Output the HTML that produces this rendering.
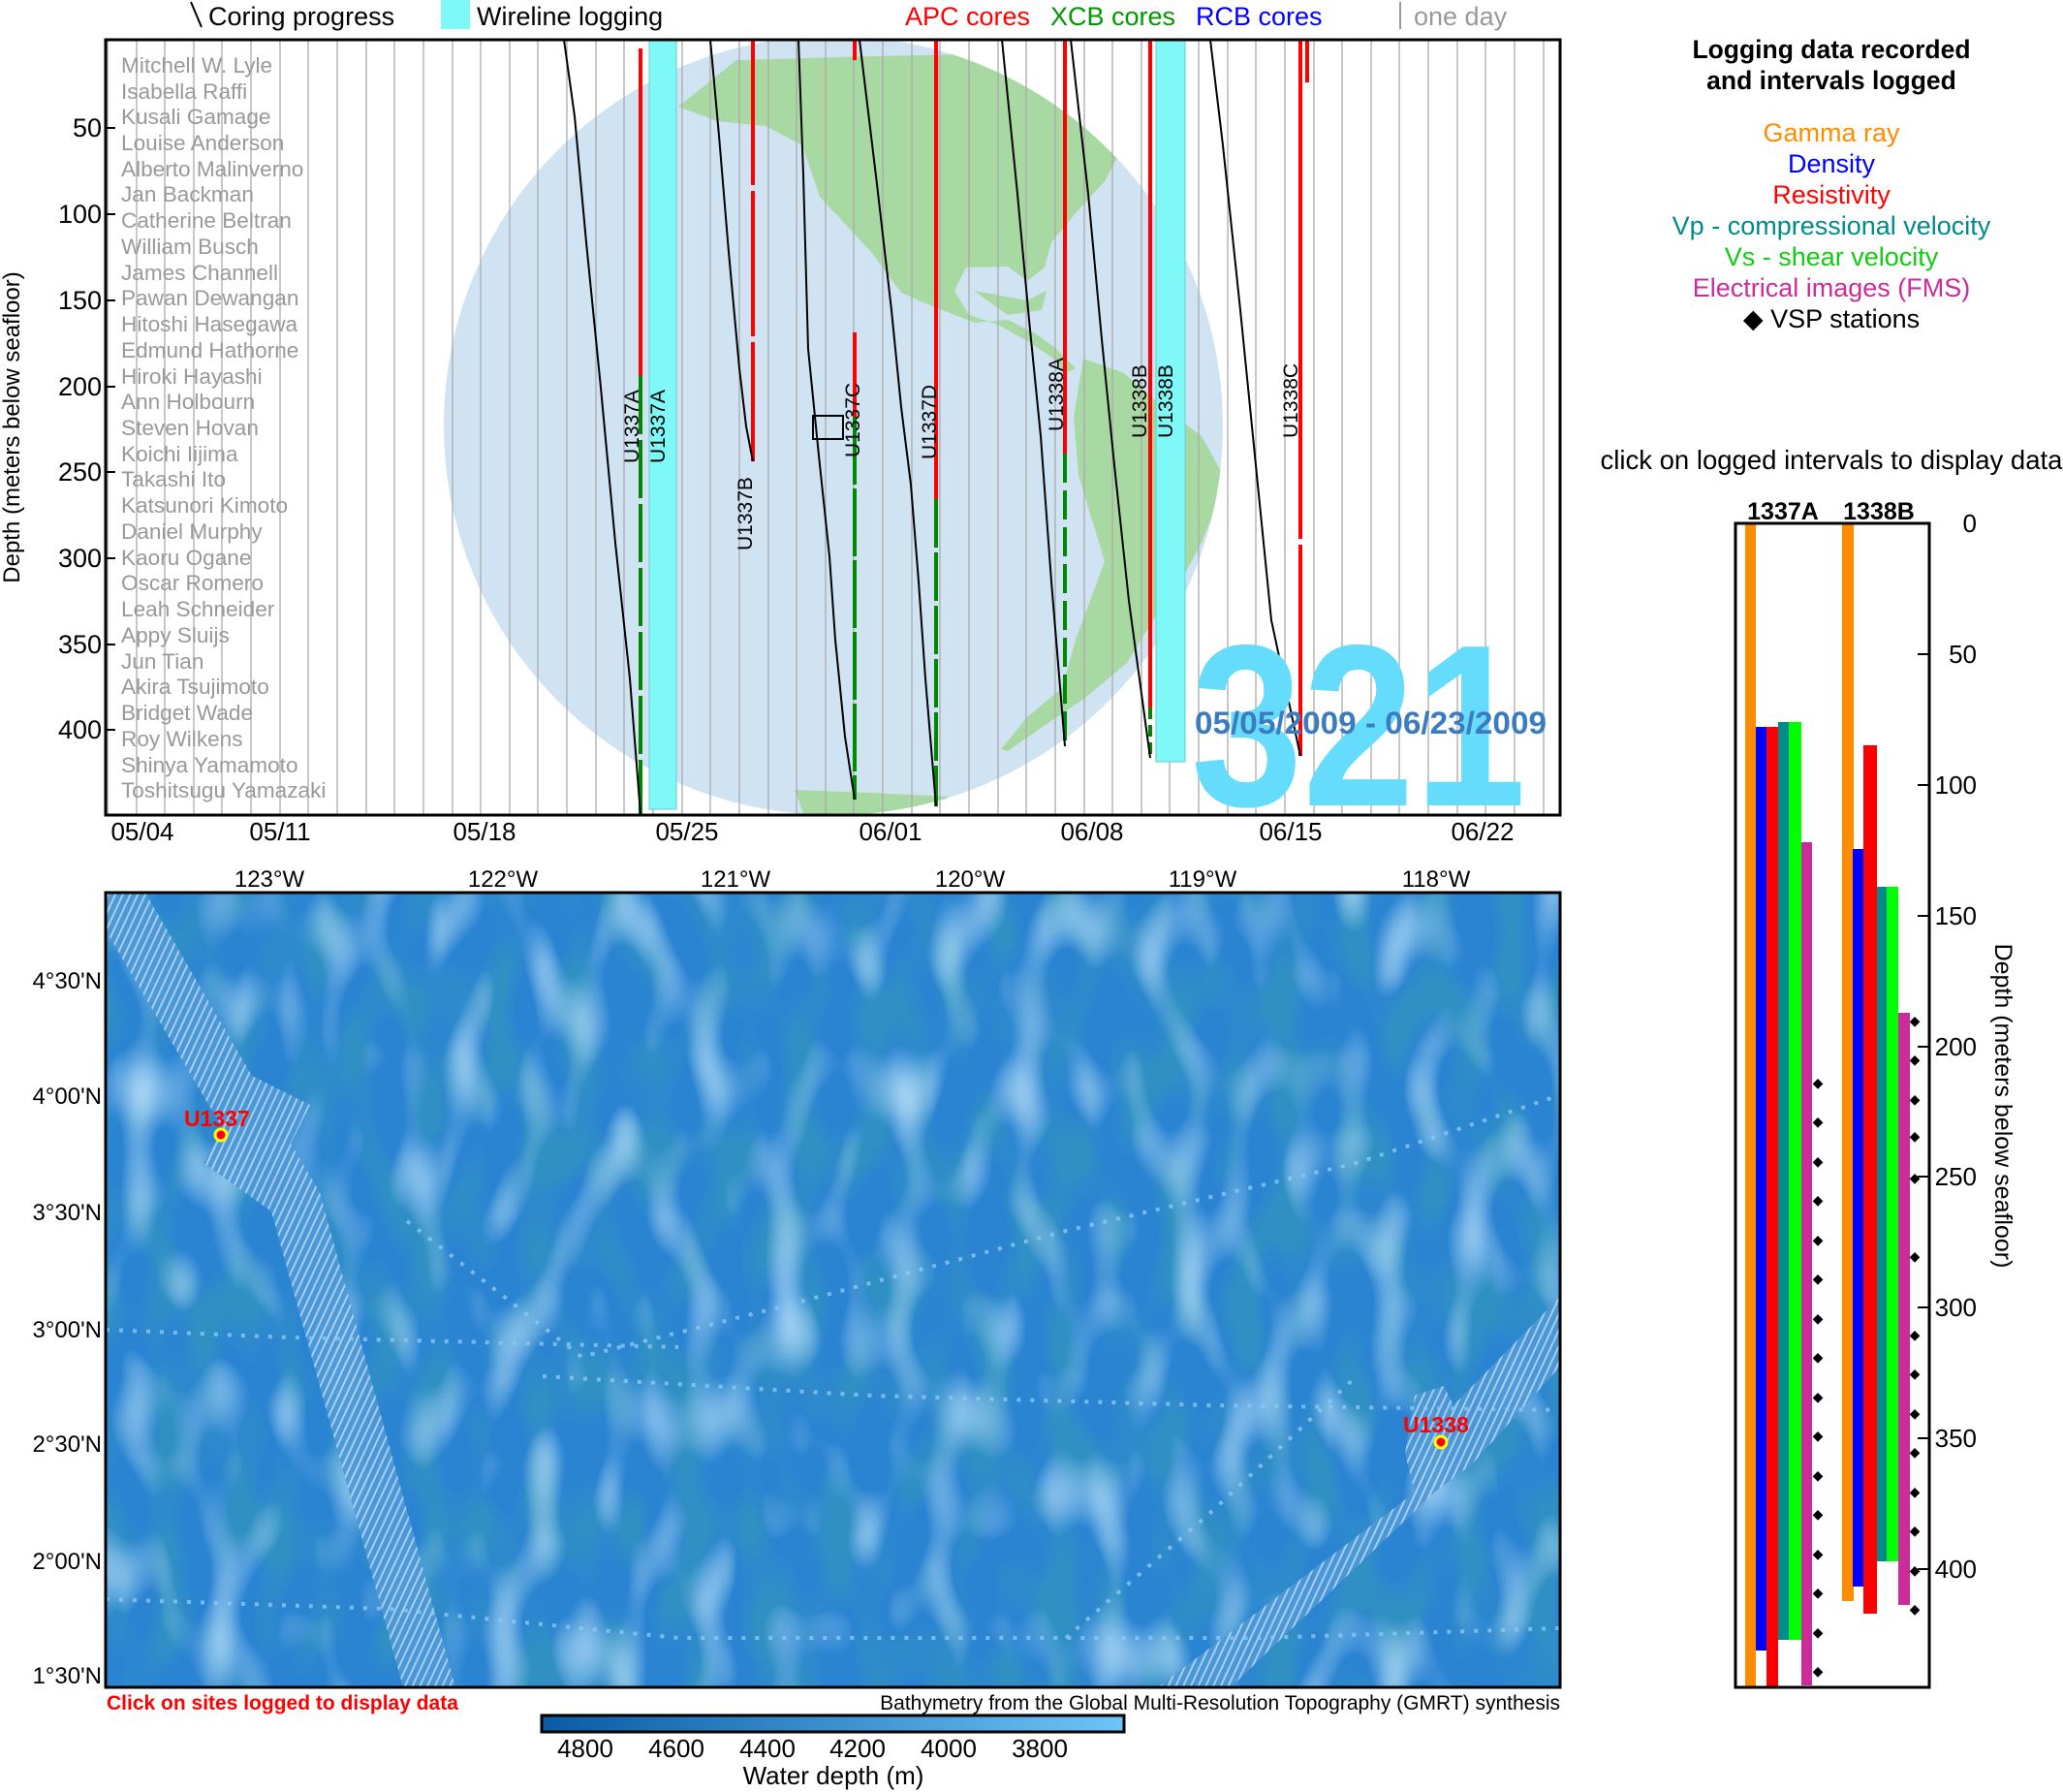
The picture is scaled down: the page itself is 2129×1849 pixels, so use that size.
<!DOCTYPE html>
<html><head><meta charset="utf-8"><style>
html,body{margin:0;padding:0;background:#fff}
svg{display:block}
text{font-family:"Liberation Sans",sans-serif}
</style></head><body>
<svg width="2129" height="1849" viewBox="0 0 2129 1849" xmlns="http://www.w3.org/2000/svg">
<defs>
<clipPath id="topc"><rect x="109" y="41" width="1501" height="800"/></clipPath>
<clipPath id="globe"><circle cx="860" cy="439" r="402"/></clipPath>
<clipPath id="mapc"><rect x="109" y="921" width="1501" height="820"/></clipPath>
<filter id="tex" x="0" y="0" width="100%" height="100%">
<feTurbulence type="fractalNoise" baseFrequency="0.024 0.012" numOctaves="1" seed="7" result="n"/>
<feColorMatrix in="n" type="matrix" values="0 0 0 0 0.5  0 0 0 0 0.76  0 0 0 0 0.95  2.6 0 0 0 -1.3"/>
</filter>
<filter id="tex2" x="0" y="0" width="100%" height="100%">
<feTurbulence type="fractalNoise" baseFrequency="0.026 0.013" numOctaves="1" seed="11" result="n"/>
<feColorMatrix in="n" type="matrix" values="0 0 0 0 0.03  0 0 0 0 0.28  0 0 0 0 0.55  0 4.0 0 0 -1.75"/>
</filter>
<linearGradient id="cb" x1="0" x2="1" y1="0" y2="0"><stop offset="0" stop-color="#0b5aa6"/><stop offset="1" stop-color="#6ec4f6"/></linearGradient>
<pattern id="rid" width="7" height="7" patternUnits="userSpaceOnUse" patternTransform="rotate(25)"><rect width="7" height="7" fill="#4f98d6"/><rect width="2" height="7" fill="#b0d6f2"/></pattern>
</defs>

<line x1="197" y1="2" x2="208" y2="28" stroke="#000" stroke-width="2"/>
<text x="215" y="26" font-size="27">Coring progress</text>
<rect x="455" y="0" width="30" height="30" fill="#7ff8f8"/>
<text x="492" y="26" font-size="27">Wireline logging</text>
<text x="934" y="26" font-size="27" fill="#f00">APC cores</text>
<text x="1084" y="26" font-size="27" fill="#090">XCB cores</text>
<text x="1234" y="26" font-size="27" fill="#00f">RCB cores</text>
<line x1="1445" y1="2" x2="1445" y2="30" stroke="#999" stroke-width="2"/>
<text x="1459" y="26" font-size="27" fill="#999">one day</text>

<g clip-path="url(#topc)">
<circle cx="860" cy="439" r="402" fill="#d0e3f3"/>
<g clip-path="url(#globe)" fill="#a9d9a3">
<polygon points="700,110 760,62 900,58 1050,55 1180,60 1300,60 1300,120 1185,108 1160,150 1140,187 1110,220 1085,250 1078,276 1060,290 1040,275 997,276 985,300 1000,325 1030,335 1064,354 1087,370 1100,385 1110,380 1090,360 1070,345 1040,330 1006,333 960,315 930,302 899,260 846,203 828,150 790,130 740,125"/>
<polygon points="1118,370 1160,385 1200,420 1240,450 1262,490 1256,520 1240,560 1221,595 1190,640 1163,684 1120,720 1073,752 1040,775 1033,773 1060,740 1096,710 1110,660 1140,579 1125,530 1113,490 1108,430"/>
<polygon points="1005,300 1060,310 1080,300 1075,320 1040,325"/>
<polygon points="820,815 900,818 980,822 940,841 830,841"/>
</g>
<g stroke="#aaa" stroke-width="1.3">
<line x1="111" y1="41" x2="111" y2="841"/><line x1="141" y1="41" x2="141" y2="841"/><line x1="170" y1="41" x2="170" y2="841"/><line x1="200" y1="41" x2="200" y2="841"/><line x1="229" y1="41" x2="229" y2="841"/><line x1="259" y1="41" x2="259" y2="841"/><line x1="289" y1="41" x2="289" y2="841"/><line x1="318" y1="41" x2="318" y2="841"/><line x1="348" y1="41" x2="348" y2="841"/><line x1="378" y1="41" x2="378" y2="841"/><line x1="407" y1="41" x2="407" y2="841"/><line x1="437" y1="41" x2="437" y2="841"/><line x1="467" y1="41" x2="467" y2="841"/><line x1="496" y1="41" x2="496" y2="841"/><line x1="526" y1="41" x2="526" y2="841"/><line x1="555" y1="41" x2="555" y2="841"/><line x1="585" y1="41" x2="585" y2="841"/><line x1="615" y1="41" x2="615" y2="841"/><line x1="644" y1="41" x2="644" y2="841"/><line x1="674" y1="41" x2="674" y2="841"/><line x1="704" y1="41" x2="704" y2="841"/><line x1="733" y1="41" x2="733" y2="841"/><line x1="763" y1="41" x2="763" y2="841"/><line x1="793" y1="41" x2="793" y2="841"/><line x1="822" y1="41" x2="822" y2="841"/><line x1="852" y1="41" x2="852" y2="841"/><line x1="881" y1="41" x2="881" y2="841"/><line x1="911" y1="41" x2="911" y2="841"/><line x1="941" y1="41" x2="941" y2="841"/><line x1="970" y1="41" x2="970" y2="841"/><line x1="1000" y1="41" x2="1000" y2="841"/><line x1="1030" y1="41" x2="1030" y2="841"/><line x1="1059" y1="41" x2="1059" y2="841"/><line x1="1089" y1="41" x2="1089" y2="841"/><line x1="1119" y1="41" x2="1119" y2="841"/><line x1="1148" y1="41" x2="1148" y2="841"/><line x1="1178" y1="41" x2="1178" y2="841"/><line x1="1207" y1="41" x2="1207" y2="841"/><line x1="1237" y1="41" x2="1237" y2="841"/><line x1="1267" y1="41" x2="1267" y2="841"/><line x1="1296" y1="41" x2="1296" y2="841"/><line x1="1326" y1="41" x2="1326" y2="841"/><line x1="1356" y1="41" x2="1356" y2="841"/><line x1="1385" y1="41" x2="1385" y2="841"/><line x1="1415" y1="41" x2="1415" y2="841"/><line x1="1444" y1="41" x2="1444" y2="841"/><line x1="1474" y1="41" x2="1474" y2="841"/><line x1="1504" y1="41" x2="1504" y2="841"/><line x1="1533" y1="41" x2="1533" y2="841"/><line x1="1563" y1="41" x2="1563" y2="841"/><line x1="1593" y1="41" x2="1593" y2="841"/>
</g>
<rect x="670" y="41" width="28" height="794" fill="#7ff8f8" stroke="#6cc" stroke-width="1"/>
<rect x="1193" y="41" width="30" height="745" fill="#7ff8f8" stroke="#6cc" stroke-width="1"/>
<g stroke-width="4">
<line x1="661" y1="50" x2="661" y2="388" stroke="#f00"/>
<line x1="661" y1="388" x2="661" y2="840" stroke="#080" stroke-dasharray="60,6"/>
<line x1="777" y1="41" x2="777" y2="476" stroke="#f00" stroke-dasharray="150,6"/>
<line x1="882" y1="41" x2="882" y2="62" stroke="#f00"/>
<line x1="882" y1="343" x2="882" y2="430" stroke="#f00"/>
<line x1="882" y1="430" x2="882" y2="825" stroke="#080" stroke-dasharray="70,4"/>
<line x1="966" y1="41" x2="966" y2="515" stroke="#f00"/>
<line x1="966" y1="515" x2="966" y2="832" stroke="#080" stroke-dasharray="50,5"/>
<line x1="1099" y1="41" x2="1099" y2="468" stroke="#f00"/>
<line x1="1099" y1="468" x2="1099" y2="770" stroke="#080" stroke-dasharray="30,8"/>
<line x1="1187" y1="41" x2="1187" y2="730" stroke="#f00"/>
<line x1="1187" y1="730" x2="1187" y2="782" stroke="#080" stroke-dasharray="12,6"/>
<line x1="1342" y1="41" x2="1342" y2="556" stroke="#f00"/>
<line x1="1342" y1="562" x2="1342" y2="780" stroke="#f00"/>
<line x1="1349" y1="41" x2="1349" y2="85" stroke="#f00"/>
</g>
<g fill="none" stroke="#000" stroke-width="2">
<polyline points="582,41 593,120 605,250 620,400 635,560 650,700 661,840"/>
<polyline points="733,41 742,140 752,260 763,380 770,440 777,476"/>
<polyline points="824,41 829,180 834,360 845,470 856,574 862,660 872,760 882,825"/>
<polyline points="887,41 905,190 920,320 930,420 940,500 948,600 955,700 966,832"/>
<polyline points="1034,41 1050,200 1062,330 1074,450 1085,600 1099,770"/>
<polyline points="1105,41 1123,200 1137,350 1150,480 1165,620 1187,782"/>
<polyline points="1249,41 1262,150 1280,320 1295,470 1312,640 1342,780"/>
</g>
<rect x="839" y="429" width="31" height="24" fill="none" stroke="#000" stroke-width="2"/>
<g font-size="21" fill="#000">
<text transform="translate(659,478) rotate(-90)">U1337A</text>
<text transform="translate(686,478) rotate(-90)">U1337A</text>
<text transform="translate(776,568) rotate(-90)">U1337B</text>
<text transform="translate(887,472) rotate(-90)">U1337C</text>
<text transform="translate(966,474) rotate(-90)">U1337D</text>
<text transform="translate(1097,445) rotate(-90)">U1338A</text>
<text transform="translate(1183,452) rotate(-90)">U1338B</text>
<text transform="translate(1210,452) rotate(-90)">U1338B</text>
<text transform="translate(1339,452) rotate(-90)">U1338C</text>
</g>
<text x="1229" y="831" font-size="238" font-weight="bold" fill="#66dcfc" textLength="346" lengthAdjust="spacingAndGlyphs">321</text>
<text x="1233" y="757" font-size="32" font-weight="bold" fill="#3b7bbf" textLength="363" lengthAdjust="spacingAndGlyphs">05/05/2009 - 06/23/2009</text>
<g font-size="22.6" fill="#999">
<text x="125" y="75">Mitchell W. Lyle</text><text x="125" y="102">Isabella Raffi</text><text x="125" y="128">Kusali Gamage</text><text x="125" y="155">Louise Anderson</text><text x="125" y="182">Alberto Malinverno</text><text x="125" y="208">Jan Backman</text><text x="125" y="235">Catherine Beltran</text><text x="125" y="262">William Busch</text><text x="125" y="289">James Channell</text><text x="125" y="315">Pawan Dewangan</text><text x="125" y="342">Hitoshi Hasegawa</text><text x="125" y="369">Edmund Hathorne</text><text x="125" y="396">Hiroki Hayashi</text><text x="125" y="422">Ann Holbourn</text><text x="125" y="449">Steven Hovan</text><text x="125" y="476">Koichi Iijima</text><text x="125" y="502">Takashi Ito</text><text x="125" y="529">Katsunori Kimoto</text><text x="125" y="556">Daniel Murphy</text><text x="125" y="583">Kaoru Ogane</text><text x="125" y="609">Oscar Romero</text><text x="125" y="636">Leah Schneider</text><text x="125" y="663">Appy Sluijs</text><text x="125" y="690">Jun Tian</text><text x="125" y="716">Akira Tsujimoto</text><text x="125" y="743">Bridget Wade</text><text x="125" y="770">Roy Wilkens</text><text x="125" y="797">Shinya Yamamoto</text><text x="125" y="823">Toshitsugu Yamazaki</text>
</g>
</g>
<rect x="109" y="41" width="1501" height="800" fill="none" stroke="#000" stroke-width="3"/>
<g stroke="#000" stroke-width="2">
<line x1="109" y1="132" x2="119" y2="132"/><line x1="109" y1="221" x2="119" y2="221"/><line x1="109" y1="310" x2="119" y2="310"/><line x1="109" y1="399" x2="119" y2="399"/><line x1="109" y1="487" x2="119" y2="487"/><line x1="109" y1="576" x2="119" y2="576"/><line x1="109" y1="665" x2="119" y2="665"/><line x1="109" y1="753" x2="119" y2="753"/>
</g>
<g font-size="27" text-anchor="end">
<text x="105" y="141">50</text><text x="105" y="230">100</text><text x="105" y="319">150</text><text x="105" y="408">200</text><text x="105" y="496">250</text><text x="105" y="585">300</text><text x="105" y="674">350</text><text x="105" y="762">400</text>
</g>
<text transform="translate(20,441) rotate(-90)" font-size="24" text-anchor="middle">Depth (meters below seafloor)</text>
<g font-size="26" text-anchor="middle">
<text x="147" y="867">05/04</text><text x="289" y="867">05/11</text><text x="500" y="867">05/18</text><text x="709" y="867">05/25</text><text x="919" y="867">06/01</text><text x="1127" y="867">06/08</text><text x="1332" y="867">06/15</text><text x="1530" y="867">06/22</text>
</g>

<g text-anchor="middle">
<text x="1890" y="60" font-size="26.5" font-weight="bold">Logging data recorded</text>
<text x="1890" y="92" font-size="26.5" font-weight="bold">and intervals logged</text>
<text x="1890" y="146" font-size="27" fill="#ff8c00">Gamma ray</text>
<text x="1890" y="178" font-size="27" fill="#00f">Density</text>
<text x="1890" y="210" font-size="27" fill="#f00">Resistivity</text>
<text x="1890" y="242" font-size="27" fill="#008b8b">Vp - compressional velocity</text>
<text x="1890" y="274" font-size="27" fill="#11cc11">Vs - shear velocity</text>
<text x="1890" y="306" font-size="27" fill="#cc2c99">Electrical images (FMS)</text>
<text x="1890" y="338" font-size="27">◆ VSP stations</text>
<text x="1890" y="484" font-size="27.5">click on logged intervals to display data</text>
<text x="1840" y="536" font-size="25" font-weight="bold">1337A</text>
<text x="1939" y="536" font-size="25" font-weight="bold">1338B</text>
</g>
<g>
<rect x="1801" y="540" width="11" height="1201" fill="#ff8c00"/>
<rect x="1812" y="750" width="11" height="953" fill="#00f"/>
<rect x="1823" y="750" width="12" height="991" fill="#f00"/>
<rect x="1835" y="745" width="11" height="947" fill="#008b8b"/>
<rect x="1846" y="745" width="13" height="947" fill="#00ff00"/>
<rect x="1859" y="869" width="11" height="870" fill="#cc2c99"/>
<rect x="1901" y="540" width="12" height="1112" fill="#ff8c00"/>
<rect x="1912" y="876" width="11" height="761" fill="#00f"/>
<rect x="1923" y="769" width="14" height="896" fill="#f00"/>
<rect x="1937" y="915" width="10" height="696" fill="#008b8b"/>
<rect x="1947" y="915" width="12" height="696" fill="#00ff00"/>
<rect x="1959" y="1045" width="12" height="611" fill="#cc2c99"/>
</g>
<g font-size="14" text-anchor="middle">
<text x="1876" y="1122">◆</text><text x="1876" y="1162">◆</text><text x="1876" y="1203">◆</text><text x="1876" y="1243">◆</text><text x="1876" y="1284">◆</text><text x="1876" y="1324">◆</text><text x="1876" y="1365">◆</text><text x="1876" y="1405">◆</text><text x="1876" y="1446">◆</text><text x="1876" y="1486">◆</text><text x="1876" y="1527">◆</text><text x="1876" y="1567">◆</text><text x="1876" y="1608">◆</text><text x="1876" y="1648">◆</text><text x="1876" y="1689">◆</text><text x="1876" y="1729">◆</text>
<text x="1976" y="1058">◆</text><text x="1976" y="1098">◆</text><text x="1976" y="1139">◆</text><text x="1976" y="1177">◆</text><text x="1976" y="1220">◆</text><text x="1976" y="1301">◆</text><text x="1976" y="1382">◆</text><text x="1976" y="1422">◆</text><text x="1976" y="1463">◆</text><text x="1976" y="1503">◆</text><text x="1976" y="1544">◆</text><text x="1976" y="1584">◆</text><text x="1976" y="1625">◆</text><text x="1976" y="1665">◆</text>
</g>
<rect x="1791" y="540" width="200" height="1201" fill="none" stroke="#000" stroke-width="3"/>
<g stroke="#000" stroke-width="2">
<line x1="1991" y1="675" x2="1979" y2="675"/><line x1="1991" y1="810" x2="1979" y2="810"/><line x1="1991" y1="945" x2="1979" y2="945"/><line x1="1991" y1="1080" x2="1979" y2="1080"/><line x1="1991" y1="1214" x2="1979" y2="1214"/><line x1="1991" y1="1349" x2="1979" y2="1349"/><line x1="1991" y1="1484" x2="1979" y2="1484"/><line x1="1991" y1="1619" x2="1979" y2="1619"/>
</g>
<g font-size="26" text-anchor="end">
<text x="2040" y="549">0</text><text x="2040" y="684">50</text><text x="2040" y="819">100</text><text x="2040" y="954">150</text><text x="2040" y="1089">200</text><text x="2040" y="1223">250</text><text x="2040" y="1358">300</text><text x="2040" y="1493">350</text><text x="2040" y="1628">400</text>
</g>
<text transform="translate(2059,1141) rotate(90)" font-size="25" text-anchor="middle">Depth (meters below seafloor)</text>

<g clip-path="url(#mapc)">
<rect x="109" y="921" width="1501" height="820" fill="#2b84d2"/>
<rect x="109" y="921" width="1501" height="820" filter="url(#tex2)"/>
<rect x="109" y="921" width="1501" height="820" filter="url(#tex)"/>
<polygon fill="url(#rid)" opacity="0.9" points="109,921 150,921 260,1110 320,1140 300,1180 330,1230 470,1741 416,1741 280,1250 210,1200 230,1165 109,960"/>
<polygon fill="url(#rid)" opacity="0.9" points="1195,1741 1270,1741 1480,1540 1520,1510 1610,1410 1610,1338 1500,1450 1490,1430 1460,1440 1450,1500 1460,1540"/>
<g fill="none" stroke="#8cc8f2" stroke-width="4" stroke-dasharray="4,10" opacity="0.8">
<polyline points="109,1372 300,1380 500,1385 700,1390"/>
<polyline points="109,1650 400,1660 700,1690 1000,1690 1300,1690 1610,1680"/>
<polyline points="420,1260 600,1400 800,1350 1100,1270 1400,1200 1610,1130"/>
<polyline points="560,1420 900,1440 1250,1450 1610,1455"/>
<polyline points="1100,1690 1250,1560 1400,1420"/>
</g>
</g>
<rect x="109" y="921" width="1501" height="820" fill="none" stroke="#000" stroke-width="3"/>
<circle cx="228" cy="1171" r="6" fill="#f00" stroke="#ff0" stroke-width="3"/>
<text x="190" y="1162" font-size="23" font-weight="bold" fill="#f00">U1337</text>
<circle cx="1487" cy="1488" r="6" fill="#f00" stroke="#ff0" stroke-width="3"/>
<text x="1448" y="1478" font-size="23" font-weight="bold" fill="#f00">U1338</text>
<g font-size="24" text-anchor="middle">
<text x="278" y="915">123°W</text><text x="519" y="915">122°W</text><text x="759" y="915">121°W</text><text x="1001" y="915">120°W</text><text x="1241" y="915">119°W</text><text x="1482" y="915">118°W</text>
</g>
<g font-size="24" text-anchor="end">
<text x="105" y="1020">4°30'N</text><text x="105" y="1139">4°00'N</text><text x="105" y="1259">3°30'N</text><text x="105" y="1380">3°00'N</text><text x="105" y="1498">2°30'N</text><text x="105" y="1619">2°00'N</text><text x="105" y="1737">1°30'N</text>
</g>
<text x="110" y="1764" font-size="21" font-weight="bold" fill="#f00">Click on sites logged to display data</text>
<text x="1610" y="1764" font-size="21" text-anchor="end">Bathymetry from the Global Multi-Resolution Topography (GMRT) synthesis</text>
<rect x="559" y="1770" width="601" height="17" fill="url(#cb)" stroke="#000" stroke-width="3"/>
<g font-size="26" text-anchor="middle">
<text x="604" y="1813">4800</text><text x="698" y="1813">4600</text><text x="792" y="1813">4400</text><text x="885" y="1813">4200</text><text x="979" y="1813">4000</text><text x="1073" y="1813">3800</text>
<text x="860" y="1841">Water depth (m)</text>
</g>
</svg>
</body></html>
